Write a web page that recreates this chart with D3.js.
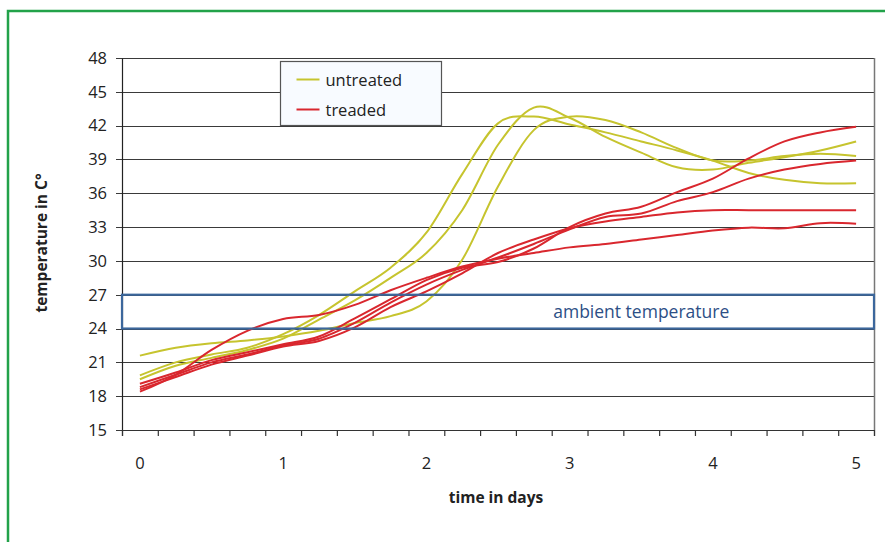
<!DOCTYPE html>
<html>
<head>
<meta charset="utf-8">
<script src="https://cdn.jsdelivr.net/npm/d3@7"></script>
<style>
  html, body { margin: 0; padding: 0; background: #fff; }
  #chart { width: 885px; height: 542px; overflow: hidden; }
  text { font-family: 'Open Sans', Lato, sans-serif; fill: #222; }
</style>
</head>
<body>
<div id="chart"></div>
<script>
// time points (days, quarter-day steps)
const times = [0, 0.25, 0.5, 0.75, 1, 1.25, 1.5, 1.75, 2, 2.25, 2.5, 2.75, 3, 3.25, 3.5, 3.75, 4, 4.25, 4.5, 4.75, 5];

// untreated samples
const untreated1 = [19.85, 21.0, 21.7, 22.3, 23.5, 25.2, 27.3, 29.4, 32.5, 37.7, 42.2, 42.8, 42.1, 41.4, 40.6, 39.8, 38.9, 37.8, 37.2, 36.9, 36.9];
const untreated2 = [19.5, 20.7, 21.4, 22.1, 23.1, 24.8, 26.5, 28.5, 30.7, 34.5, 40.3, 43.6, 42.7, 41.0, 39.6, 38.3, 38.1, 38.7, 39.2, 39.8, 40.6];
const untreated3 = [21.6, 22.3, 22.7, 22.95, 23.3, 23.8, 24.5, 25.1, 26.4, 30.1, 36.6, 41.6, 42.8, 42.5, 41.4, 40.0, 38.9, 38.9, 39.3, 39.5, 39.3];

// treated samples
const treated1 = [19.1, 20.1, 21.2, 21.9, 22.6, 23.3, 24.9, 26.6, 28.3, 29.4, 29.9, 31.1, 33.0, 34.2, 34.8, 36.1, 37.3, 39.1, 40.6, 41.4, 41.9];
const treated2 = [18.8, 19.9, 21.0, 21.7, 22.5, 23.1, 24.5, 26.3, 27.9, 29.2, 30.3, 31.5, 32.8, 33.9, 34.2, 35.3, 36.1, 37.3, 38.1, 38.6, 38.9];
const treated3 = [18.6, 19.7, 20.8, 21.6, 22.4, 22.9, 24.1, 25.9, 27.3, 28.9, 30.7, 31.9, 32.9, 33.5, 33.9, 34.3, 34.5, 34.5, 34.5, 34.5, 34.5];
const treated4 = [18.4, 19.9, 22.1, 23.8, 24.85, 25.2, 26.1, 27.4, 28.5, 29.5, 30.2, 30.7, 31.2, 31.5, 31.9, 32.3, 32.7, 32.95, 32.9, 33.35, 33.3];

const yTicks = [15, 18, 21, 24, 27, 30, 33, 36, 39, 42, 45, 48];
const xLabels = [0, 1, 2, 3, 4, 5];
const ambient = [24, 27];

const seriesList = [
  { name: 'untreated', values: untreated1 },
  { name: 'untreated', values: untreated2 },
  { name: 'untreated', values: untreated3 },
  { name: 'treaded', values: treated1 },
  { name: 'treaded', values: treated2 },
  { name: 'treaded', values: treated3 },
  { name: 'treaded', values: treated4 },
];
const legendItems = ['untreated', 'treaded'];

const colors = { untreated: '#c6c42e', treaded: '#d9272e' };

const cw = 885, ch = 542;
const margin = { top: 58, right: 11, bottom: 112, left: 122 };
const w = cw - margin.left - margin.right;
const h = ch - margin.top - margin.bottom;

const svg0 = d3.select('#chart').append('svg')
  .attr('width', cw).attr('height', ch);

// outer green frame
svg0.append('rect')
  .attr('x', 8).attr('y', 11)
  .attr('width', cw + 20).attr('height', ch + 20)
  .attr('fill', 'none')
  .attr('stroke', '#22a24a')
  .attr('stroke-width', 2.5);

const svg = svg0.append('g')
  .attr('transform', `translate(${margin.left},${margin.top})`);

// category axis: 21 points, half a step padding at each end
const step = times[1] - times[0];
const xScale = d3.scaleLinear()
  .domain([times[0] - step / 2, times[times.length - 1] + step / 2])
  .range([0, w]);
const yScale = d3.scaleLinear().domain([15, 48]).range([h, 0]);

// grid
svg.append('g')
  .selectAll('line')
  .data(yTicks)
  .join('line')
  .attr('x1', -6).attr('x2', w)
  .attr('y1', d => Math.round(yScale(d)) + 0.5)
  .attr('y2', d => Math.round(yScale(d)) + 0.5)
  .attr('stroke', '#3a3a3a')
  .attr('stroke-width', 1.2);

// right edge of plot area
svg.append('line')
  .attr('x1', w + 0.5).attr('x2', w + 0.5)
  .attr('y1', 0).attr('y2', h)
  .attr('stroke', '#777').attr('stroke-width', 1.5);

// y axis
const yAxis = svg.append('g')
  .call(d3.axisLeft(yScale).tickValues(yTicks).tickSize(0).tickPadding(15));
yAxis.select('.domain').attr('stroke', '#222').attr('stroke-width', 1.2);
yAxis.selectAll('text')
  .style('font-size', '16.5px')
  .style('font-family', "'Open Sans', sans-serif")
  .attr('fill', '#222');

// x axis: tick marks at category boundaries
const boundaries = times.map(t => t - step / 2).concat([times[times.length - 1] + step / 2]);
const xAxis = svg.append('g')
  .attr('transform', `translate(0,${h})`)
  .call(d3.axisBottom(xScale).tickValues(boundaries).tickSize(6).tickFormat(''));
xAxis.selectAll('line, path').attr('stroke', '#333').attr('stroke-width', 1.2);

svg.append('g')
  .selectAll('text')
  .data(xLabels)
  .join('text')
  .attr('x', d => xScale(d))
  .attr('y', h + 39)
  .attr('text-anchor', 'middle')
  .attr('font-size', '16.5px')
  .text(d => d);

// series
const lineGen = d3.line()
  .x((d, i) => xScale(times[i]))
  .y(d => yScale(d))
  .curve(d3.curveCardinal.tension(0));

seriesList.forEach(s => {
  svg.append('path')
    .datum(s.values)
    .attr('d', lineGen)
    .attr('fill', 'none')
    .attr('stroke', colors[s.name])
    .attr('stroke-width', 2)
    .attr('stroke-linejoin', 'round');
});

// ambient temperature band
svg.append('rect')
  .attr('x', 0)
  .attr('y', yScale(ambient[1]))
  .attr('width', w)
  .attr('height', yScale(ambient[0]) - yScale(ambient[1]))
  .attr('fill', 'none')
  .attr('stroke', '#3c679c')
  .attr('stroke-width', 2.2);

svg.append('text')
  .attr('x', xScale(3.5))
  .attr('y', yScale((ambient[0] + ambient[1]) / 2) + 6)
  .attr('text-anchor', 'middle')
  .attr('font-size', '17.5px')
  .style('fill', '#2d4f86')
  .text('ambient temperature');

// axis titles
svg0.append('text')
  .attr('x', 496).attr('y', 503)
  .attr('text-anchor', 'middle')
  .attr('font-size', '15.5px')
  .attr('font-weight', 'bold')
  .text('time in days');

svg0.append('text')
  .attr('transform', 'translate(47,243) rotate(-90)')
  .attr('text-anchor', 'middle')
  .attr('font-size', '15.5px')
  .attr('font-weight', 'bold')
  .text('temperature in C°');

// legend
const legend = svg0.append('g').attr('transform', 'translate(280.5,61.5)');
legend.append('rect')
  .attr('width', 161).attr('height', 64)
  .attr('fill', '#f8fbff')
  .attr('stroke', '#555')
  .attr('stroke-width', 1.2);

legendItems.forEach((name, i) => {
  const y = 18 + i * 30;
  legend.append('line')
    .attr('x1', 16).attr('x2', 39)
    .attr('y1', y).attr('y2', y)
    .attr('stroke', colors[name])
    .attr('stroke-width', 2);
  legend.append('text')
    .attr('x', 45).attr('y', y + 6)
    .attr('font-size', '16.5px')
    .text(name);
});
</script>
</body>
</html>
